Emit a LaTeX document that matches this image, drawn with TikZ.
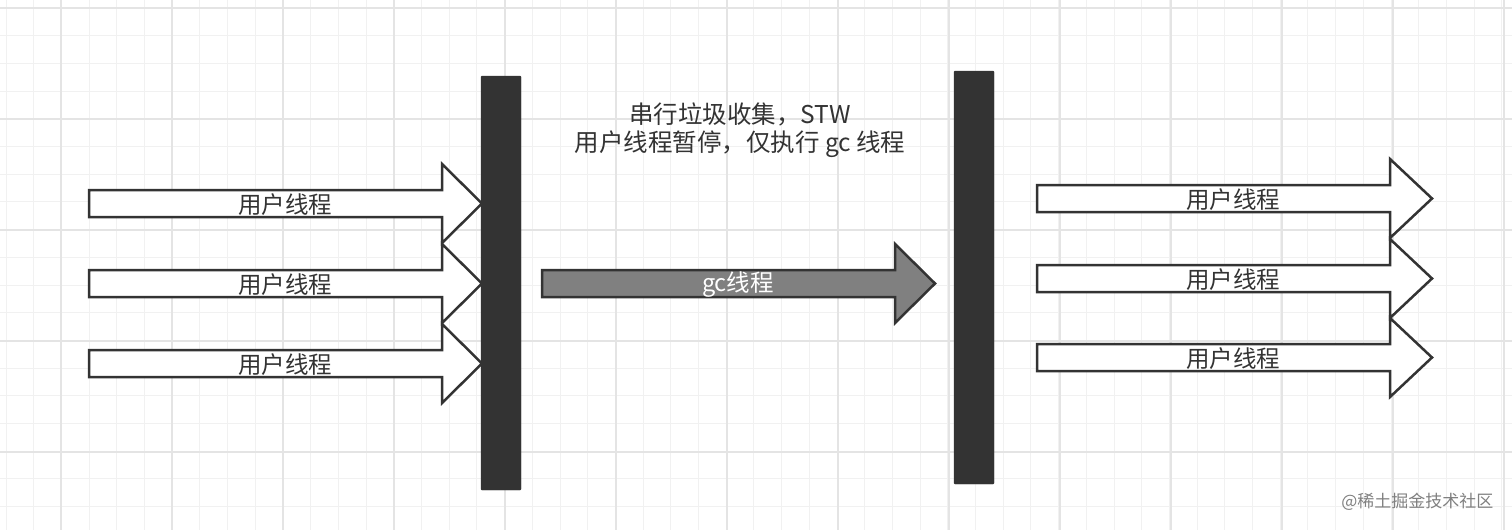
\documentclass[tikz,border=0pt]{standalone}
\usepackage{fontspec}
\setmainfont{Noto Sans CJK SC}
\definecolor{gminor}{HTML}{F1F1F1}
\definecolor{gmajor}{HTML}{E4E4E4}
\definecolor{dark}{HTML}{333333}
\begin{document}
\begin{tikzpicture}[x=1pt,y=-1pt,
  bar/.style={fill=dark,draw=dark,rounded corners=1pt},
  arr/.style={draw=dark,line width=2.5pt,line join=miter,fill=white},
  lbl/.style={font=\fontsize{23.5}{25}\selectfont,text=dark},
  txt/.style={font=\fontsize{24.5}{29}\selectfont,text=dark,align=center}]
\useasboundingbox (0,0) rectangle (1512,530);
\fill[white] (0,0) rectangle (1512,530);
\foreach \x in {6,33.7,...,1512} \draw[gminor,line width=1pt] (\x,0) -- (\x,530);
\foreach \y in {8,35.7,...,530} \draw[gminor,line width=1pt] (0,\y) -- (1512,\y);
\foreach \x in {61,172,...,1512} \draw[gmajor,line width=1.3pt] (\x,0) -- (\x,530);
\foreach \y in {8,119,...,530} \draw[gmajor,line width=1.3pt] (0,\y) -- (1512,\y);
% left arrows
\foreach \n/\c in {a1/203.5,a2/283.5,a3/363.5}{
  \draw[arr] (89,\c-13.5) -- (442,\c-13.5) -- (442,\c-39.5) -- (482,\c) -- (442,\c+39.5) -- (442,\c+13.5) -- (89,\c+13.5) -- cycle;
  \node[lbl] (\n) at (285,\c+1) {用户线程};
}
% right arrows
\foreach \n/\c in {b1/198.5,b2/278.5,b3/357.5}{
  \draw[arr] (1037,\c-13.5) -- (1390,\c-13.5) -- (1390,\c-39.5) -- (1432,\c) -- (1390,\c+39.5) -- (1390,\c+13.5) -- (1037,\c+13.5) -- cycle;
  \node[lbl] (\n) at (1233,\c+1) {用户线程};
}
% gc arrow
\draw[arr,fill=gray] (542,270) -- (895,270) -- (895,244) -- (935,283.5) -- (895,323) -- (895,297) -- (542,297) -- cycle;
\node[lbl,text=white] (gc) at (738,285) {gc线程};
% bars
\draw[bar] (481,76) rectangle (521,490);
\draw[bar] (954,71) rectangle (994,484);
\node[txt] (t1) at (740,114) {串行垃圾收集，STW};
\node[txt] (t2) at (740,144) {用户线程暂停，仅执行 gc 线程};
\node[font=\fontsize{17}{19}\selectfont,text=gray,anchor=east] (wm) at (1497,502) {@稀土掘金技术社区};
\end{tikzpicture}
\end{document}
